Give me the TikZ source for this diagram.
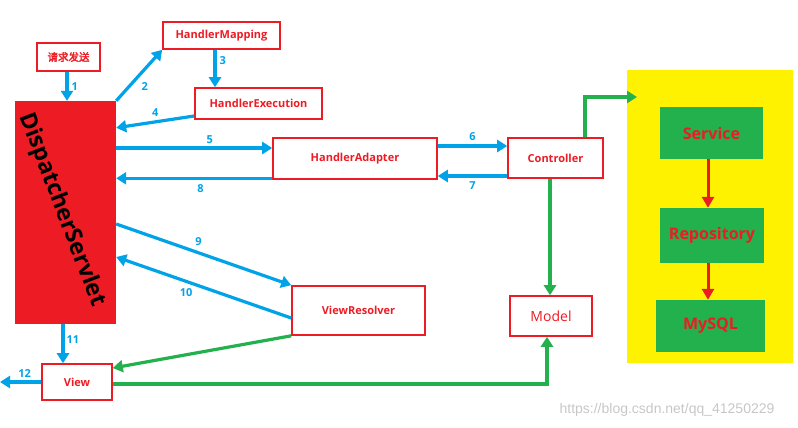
\documentclass[tikz,border=0pt]{standalone}
\usepackage{fontspec}
\setmainfont{Open Sans}
\newfontfamily\cjk{Noto Sans CJK SC}[AutoFakeBold=2.5]
\newfontfamily\wm{Liberation Sans}
\usetikzlibrary{arrows.meta}
\definecolor{cblue}{RGB}{0,162,232}
\definecolor{cgreen}{RGB}{34,177,76}
\definecolor{cred}{RGB}{237,28,36}
\definecolor{cyellow}{RGB}{255,242,0}
\tikzset{
  box/.style={draw=cred, line width=1.6pt, fill=white, text=cred, font=\bfseries\fontsize{11}{13}\selectfont, inner sep=0pt},
  gbox/.style={fill=cgreen, text=cred, font=\bfseries\fontsize{16}{19}\selectfont, inner sep=0pt},
  barrow/.style={draw=cblue, line width=3.2pt, -{Triangle[width=12pt,length=10pt]}},
  garrow/.style={draw=cgreen, line width=3.2pt, -{Triangle[width=12pt,length=10pt]}},
  rarrow/.style={draw=cred, line width=3pt, -{Triangle[width=12pt,length=11pt]}},
  num/.style={text=cblue, font=\bfseries\fontsize{11}{13}\selectfont, inner sep=1pt}
}
\begin{document}
\begin{tikzpicture}[x=1pt,y=-1pt]
\useasboundingbox (0,0) rectangle (798,428);
% nodes
\node[box, minimum width=63pt, minimum height=28pt, font=\fontsize{10.5}{12}\selectfont] (req) at (68.5,57) {\cjk\bfseries 请求发送};
\node[box, minimum width=117pt, minimum height=27pt] (hm) at (221.5,35.5) {HandlerMapping};
\node[box, minimum width=127pt, minimum height=31pt] (he) at (258.5,103.5) {HandlerExecution};
\node[fill=cred, minimum width=101pt, minimum height=223pt, inner sep=0pt] (ds) at (65.5,212.5) {};
\node[rotate=-69, font=\bfseries\fontsize{23}{27}\selectfont, text=black] (dst) at (62,210) {DispatcherServlet};
\node[box, minimum width=164pt, minimum height=41pt] (ha) at (355,158.5) {HandlerAdapter};
\node[box, minimum width=95pt, minimum height=40pt] (ctrl) at (555.5,158) {Controller};
\node[box, minimum width=133pt, minimum height=49pt] (vr) at (358.5,310.5) {ViewResolver};
\node[box, minimum width=82pt, minimum height=40pt, font=\fontsize{14}{16}\selectfont] (model) at (551,316) {Model};
\node[box, minimum width=70pt, minimum height=36pt] (view) at (77,382) {View};
\node[fill=cyellow, minimum width=166pt, minimum height=293pt, inner sep=0pt] (yellow) at (710,216.5) {};
\node[gbox, minimum width=103pt, minimum height=52pt] (svc) at (711.5,133) {Service};
\node[gbox, minimum width=104pt, minimum height=55pt] (repo) at (712,235.5) {Repository};
\node[gbox, minimum width=109pt, minimum height=52pt] (mysql) at (710.5,326) {MySQL};
\node[text=black!22, font=\wm\fontsize{14}{16}\selectfont] (wmk) at (667,410) {https://blog.csdn.net/qq\_41250229};
% coordinates
\coordinate (a1) at ([xshift=-1.5pt]req.south);
\coordinate (a3) at ([xshift=-6.5pt]hm.south);
\coordinate (a4s) at ([yshift=-12.5pt]he.west);
\coordinate (a4e) at ([yshift=-27pt]ds.north east);
\coordinate (a5) at ([yshift=10.5pt]ha.west);
\coordinate (a8) at ([yshift=1.5pt]ha.south west);
\coordinate (a6) at ([yshift=12.5pt]ha.east);
\coordinate (a7) at ([yshift=-17.5pt]ha.east);
\coordinate (a9) at ([yshift=-11.5pt]ds.east);
\coordinate (a10s) at ([yshift=-7.5pt]vr.west);
\coordinate (a10e) at ([yshift=-44.5pt]ds.east);
\coordinate (a11) at ([xshift=-2.5pt]ds.south);
\coordinate (out) at (0,382);
\coordinate (g1) at ([yshift=14pt]view.east);
\coordinate (v1) at ([yshift=-2pt]view.east);
\coordinate (m1) at ([xshift=-4pt]model.south);
\coordinate (c1) at ([xshift=29.5pt]ctrl.north);
\coordinate (yin) at (637,97);
\coordinate (c2) at ([xshift=-5.5pt]ctrl.south);
\coordinate (r1) at ([xshift=-3.5pt]svc.south);
\coordinate (r2) at ([xshift=-4pt]repo.south);
% blue arrows
\draw[barrow] (a1) -- (a1 |- ds.north) node[num, midway, right=2pt] {1};
\draw[barrow] (ds.north east) -- (hm.south west) node[num, pos=0.45, below right=2pt] {2};
\draw[barrow] (a3) -- (a3 |- he.north) node[num, pos=0.3, right=2pt] {3};
\draw[barrow] (a4s) -- (a4e) node[num, pos=0.5, above=3pt] {4};
\draw[barrow] (a5 -| ds.east) -- (a5) node[num, pos=0.6, above=2pt] {5};
\draw[barrow] (a8) -- (a8 -| ds.east) node[num, pos=0.46, below=4pt] {8};
\draw[barrow] (a6) -- (a6 -| ctrl.west) node[num, midway, above=3pt] {6};
\draw[barrow] (a7 -| ctrl.west) -- (a7) node[num, midway, below=3pt] {7};
\draw[barrow] (a9) -- (vr.north west) node[num, pos=0.47, above=5pt] {9};
\draw[barrow] (a10s) -- (a10e) node[num, pos=0.6, below=5pt] {10};
\draw[barrow] (a11) -- (a11 |- view.north) node[num, pos=0.4, right=1pt] {11};
\draw[barrow] (view.west) -- (out) node[num, pos=0.4, above=2pt] {12};
% green arrows
\draw[garrow] (vr.south west) -- (g1);
\draw[garrow] (v1) -| (m1);
\draw[garrow] (c1) |- (yin);
\draw[garrow] (c2) -- (c2 |- model.north);
% red arrows
\draw[rarrow] (r1) -- (r1 |- repo.north);
\draw[rarrow] (r2) -- (r2 |- mysql.north);
\end{tikzpicture}
\end{document}
